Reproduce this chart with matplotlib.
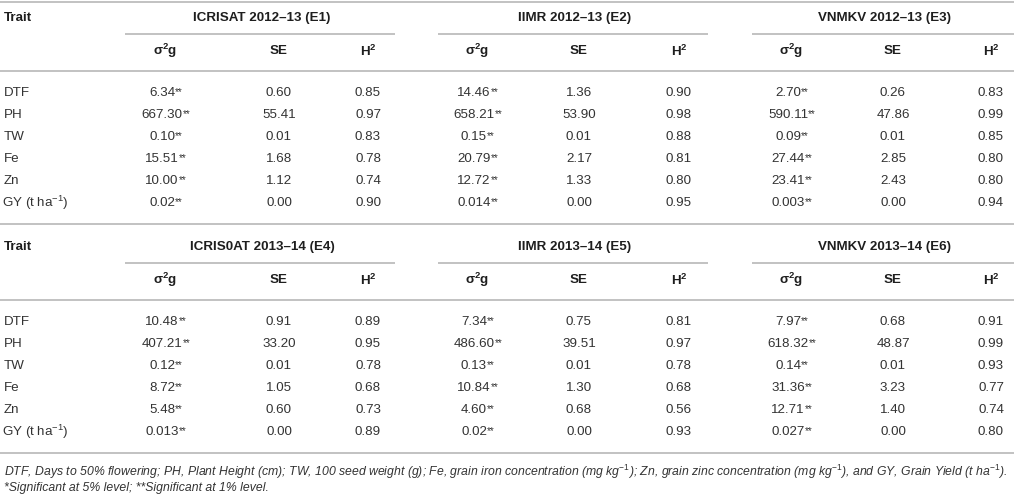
import matplotlib
matplotlib.use("Agg")
import matplotlib.pyplot as plt

plt.rcParams["font.family"] = ["Liberation Sans", "DejaVu Sans"]
plt.rcParams["mathtext.fontset"] = "custom"
plt.rcParams["mathtext.rm"] = "Liberation Sans"
plt.rcParams["mathtext.it"] = "Liberation Sans:italic"
plt.rcParams["mathtext.bf"] = "Liberation Sans:bold"

# data
traits = ["DTF", "PH", "TW", "Fe", "Zn", "GY (t ha$^{-1}$)"]
env_titles = ["ICRISAT 2012\u201313 (E1)", "IIMR 2012\u201313 (E2)", "VNMKV 2012\u201313 (E3)",
              "ICRIS0AT 2013\u201314 (E4)", "IIMR 2013\u201314 (E5)", "VNMKV 2013\u201314 (E6)"]
col_heads = [r"σ$^\mathbf{2}$g", "SE", r"H$^\mathbf{2}$"]

sigma_e1 = ["6.34", "667.30", "0.10", "15.51", "10.00", "0.02"]
se_e1 = ["0.60", "55.41", "0.01", "1.68", "1.12", "0.00"]
h2_e1 = ["0.85", "0.97", "0.83", "0.78", "0.74", "0.90"]

sigma_e2 = ["14.46", "658.21", "0.15", "20.79", "12.72", "0.014"]
se_e2 = ["1.36", "53.90", "0.01", "2.17", "1.33", "0.00"]
h2_e2 = ["0.90", "0.98", "0.88", "0.81", "0.80", "0.95"]

sigma_e3 = ["2.70", "590.11", "0.09", "27.44", "23.41", "0.003"]
se_e3 = ["0.26", "47.86", "0.01", "2.85", "2.43", "0.00"]
h2_e3 = ["0.83", "0.99", "0.85", "0.80", "0.80", "0.94"]

sigma_e4 = ["10.48", "407.21", "0.12", "8.72", "5.48", "0.013"]
se_e4 = ["0.91", "33.20", "0.01", "1.05", "0.60", "0.00"]
h2_e4 = ["0.89", "0.95", "0.78", "0.68", "0.73", "0.89"]

sigma_e5 = ["7.34", "486.60", "0.13", "10.84", "4.60", "0.02"]
se_e5 = ["0.75", "39.51", "0.01", "1.30", "0.68", "0.00"]
h2_e5 = ["0.81", "0.97", "0.78", "0.68", "0.56", "0.93"]

sigma_e6 = ["7.97", "618.32", "0.14", "31.36", "12.71", "0.027"]
se_e6 = ["0.68", "48.87", "0.01", "3.23", "1.40", "0.00"]
h2_e6 = ["0.91", "0.99", "0.93", "0.77", "0.74", "0.80"]

blocks = [
    [(sigma_e1, se_e1, h2_e1), (sigma_e2, se_e2, h2_e2), (sigma_e3, se_e3, h2_e3)],
    [(sigma_e4, se_e4, h2_e4), (sigma_e5, se_e5, h2_e5), (sigma_e6, se_e6, h2_e6)],
]

footnote1 = ("DTF, Days to 50% flowering; PH, Plant Height (cm); TW, 100 seed weight (g); "
             "Fe, grain iron concentration (mg kg$^{\\mathit{-1}}$); Zn, grain zinc concentration "
             "(mg kg$^{\\mathit{-1}}$), and GY, Grain Yield (t ha$^{\\mathit{-1}}$).")
footnote2 = "*Significant at 5% level; **Significant at 1% level."

# layout (pixel coords)
W, H = 1014, 499
col_x = [[162, 279, 368], [474, 579, 679], [788, 893, 991]]
span_x = [(125, 395), (438, 708), (752, 1014)]
block_top = [18, 247]
row_h = 22
line_col = "#b8b8b8"
txt_col = "#333333"
hdr_col = "#1e1e1e"
fs = 9.6

fig = plt.figure(figsize=(W / 100, H / 100), dpi=100)
ax = fig.add_axes([0, 0, 1, 1])
ax.set_xlim(0, W)
ax.set_ylim(H, 0)
ax.axis("off")


def hline(y, x0=0, x1=W):
    ax.plot([x0, x1], [y, y], color=line_col, lw=1.2, solid_capstyle="butt")


hline(2)
for b, top in enumerate(block_top):
    ax.text(4, top, "Trait", fontsize=fs, fontweight="bold", color=hdr_col,
            ha="left", va="center")
    for g in range(3):
        x0, x1 = span_x[g]
        ax.text((x0 + x1) / 2 + 2, top, env_titles[b * 3 + g], fontsize=fs,
                fontweight="bold", color=hdr_col, ha="center", va="center")
        hline(top + 16, x0, x1)
        for c in range(3):
            ax.text(col_x[g][c] + (3 if c == 0 else 0), top + 33, col_heads[c],
                    fontsize=fs, fontweight="bold", color=hdr_col,
                    ha="center", va="center")
    hline(top + 53)
    for r, trait in enumerate(traits):
        y = top + 75 + r * row_h
        ax.text(2 if r == 5 else 4, y, trait, fontsize=fs, color=txt_col,
                ha="left", va="center")
        for g in range(3):
            sig, se, h2 = blocks[b][g]
            t = ax.text(col_x[g][0], y, sig[r], fontsize=fs, color=txt_col,
                        ha="center", va="center")
            ax.annotate("**", xy=(1.0, 0.98), xycoords=t, fontsize=7,
                        color=txt_col, ha="left", va="top")
            ax.text(col_x[g][1], y, se[r], fontsize=fs, color=txt_col,
                    ha="center", va="center")
            ax.text(col_x[g][2], y, h2[r], fontsize=fs, color=txt_col,
                    ha="center", va="center")
    hline(top + 206)

ax.text(4, 472, footnote1, fontsize=8.8, style="italic", color=txt_col,
        ha="left", va="center")
ax.text(4, 488, footnote2, fontsize=8.8, style="italic", color=txt_col,
        ha="left", va="center")

fig.savefig("out.png", dpi=100)
